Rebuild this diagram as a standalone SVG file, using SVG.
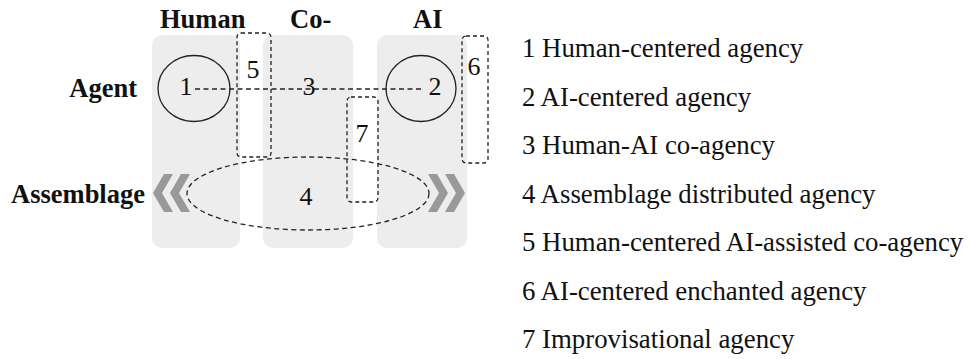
<svg xmlns="http://www.w3.org/2000/svg" width="969" height="359" viewBox="0 0 969 359">
<style>
.col{fill:#ededed}
.hd{font-family:"Liberation Serif",serif;font-weight:bold;font-size:26.5px;fill:#111}
.num{font-family:"Liberation Serif",serif;font-size:26px;fill:#111;text-anchor:middle}
.leg{font-family:"Liberation Serif",serif;font-size:26.8px;fill:#111}
.solid{fill:none;stroke:#222;stroke-width:1.3}
.dash{fill:none;stroke:#222;stroke-width:1.3;stroke-dasharray:5 3.5}
.dbox{fill:none;stroke:#222;stroke-width:1.3;stroke-dasharray:4 3}
.chev{fill:#999}
</style>
<rect width="969" height="359" fill="#fff"/>
<g id="columns">
<rect class="col" x="152" y="35" width="88" height="213" rx="10"/>
<rect class="col" x="263" y="35" width="90" height="213" rx="10"/>
<rect class="col" x="377" y="35" width="90" height="213" rx="10"/>
</g>
<g id="headers">
<text class="hd" x="160" y="28">Human</text>
<text class="hd" x="290" y="28">Co-</text>
<text class="hd" x="413" y="28">AI</text>
<text class="hd" x="137" y="97" text-anchor="end">Agent</text>
<text class="hd" x="145" y="203" text-anchor="end">Assemblage</text>
</g>
<g id="connectors">
<line class="dash" x1="195" y1="89" x2="423" y2="89"/>
</g>
<g id="node1">
<ellipse class="solid" cx="194" cy="88.5" rx="36" ry="33"/>
<text class="num" x="186" y="95">1</text>
</g>
<g id="node2">
<ellipse class="solid" cx="421" cy="88.5" rx="35" ry="33"/>
<text class="num" x="435" y="95">2</text>
</g>
<g id="node3">
<text class="num" x="309" y="95">3</text>
</g>
<g id="node4">
<ellipse class="dash" cx="308" cy="193.5" rx="121" ry="36.5"/>
<polygon class="chev" points="153,193 164,174 173,174 162,193 173,212 164,212"/>
<polygon class="chev" points="170,193 181,174 190,174 179,193 190,212 181,212"/>
<polygon class="chev" points="448,193 437,174 428,174 439,193 428,212 437,212"/>
<polygon class="chev" points="465,193 454,174 445,174 456,193 445,212 454,212"/>
<text class="num" x="306" y="205">4</text>
</g>
<g id="node5">
<rect class="dbox" x="237" y="33" width="34" height="124" rx="4"/>
<text class="num" x="253" y="78">5</text>
</g>
<g id="node6">
<rect class="dbox" x="462" y="36" width="26" height="127" rx="4"/>
<text class="num" x="474" y="75">6</text>
</g>
<g id="node7">
<rect class="dbox" x="347" y="97" width="31" height="105" rx="4"/>
<text class="num" x="362" y="142">7</text>
</g>
<g id="legend">
<text class="leg" x="522" y="57">1 Human-centered agency</text>
<text class="leg" x="522" y="105.5">2 AI-centered agency</text>
<text class="leg" x="522" y="154">3 Human-AI co-agency</text>
<text class="leg" x="522" y="202.5">4 Assemblage distributed agency</text>
<text class="leg" x="522" y="251">5 Human-centered AI-assisted co-agency</text>
<text class="leg" x="522" y="299.5">6 AI-centered enchanted agency</text>
<text class="leg" x="522" y="348">7 Improvisational agency</text>
</g>
</svg>
